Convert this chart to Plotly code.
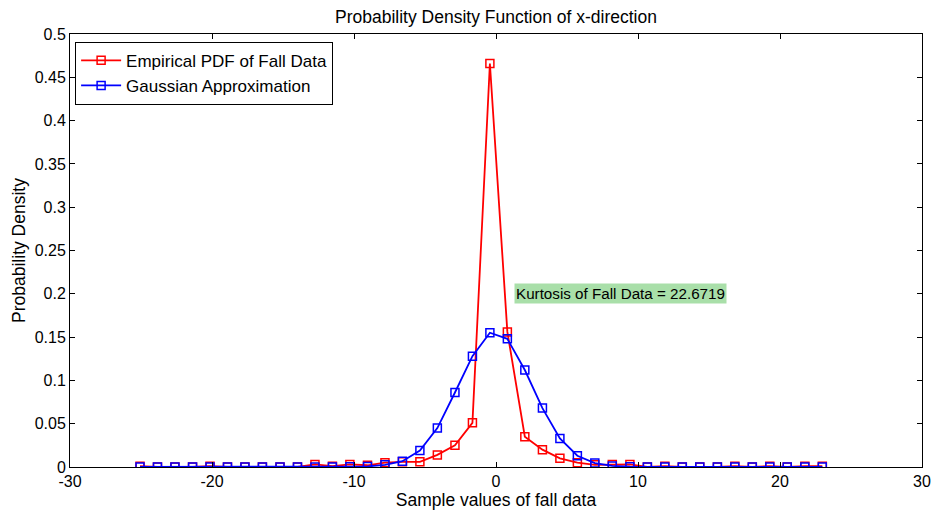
import plotly.graph_objects as go

# Bin centres (sample values)
x_vals = [-25.07, -23.84, -22.61, -21.37, -20.14, -18.91, -17.68, -16.45, -15.21, -13.98,
          -12.75, -11.52, -10.29, -9.05, -7.82, -6.59, -5.36, -4.13, -2.89, -1.66,
          -0.43, 0.80, 2.03, 3.27, 4.50, 5.73, 6.96, 8.19, 9.43, 10.66,
          11.89, 13.12, 14.35, 15.59, 16.82, 18.05, 19.28, 20.51, 21.75, 22.98]

# Empirical PDF of fall data
empirical_pdf = [0.001, 0.0, 0.0, 0.0, 0.001, 0.0, 0.0, 0.0, 0.0, 0.0,
                 0.003, 0.001, 0.003, 0.002, 0.005, 0.006, 0.006, 0.014, 0.025, 0.051,
                 0.466, 0.156, 0.035, 0.020, 0.010, 0.005, 0.0025, 0.003, 0.003, 0.0,
                 0.001, 0.0, 0.0, 0.0, 0.001, 0.0, 0.001, 0.0, 0.001, 0.001]

# Gaussian approximation
gaussian_pdf = [0.0, 0.0, 0.0, 0.0, 0.0, 0.0, 0.0, 0.0, 0.0, 0.0,
                0.0, 0.0001, 0.0002, 0.0007, 0.0025, 0.0067, 0.019, 0.045, 0.086, 0.128,
                0.155, 0.148, 0.112, 0.068, 0.033, 0.013, 0.0045, 0.0012, 0.0003, 0.0,
                0.0, 0.0, 0.0, 0.0, 0.0, 0.0, 0.0, 0.0, 0.0, 0.0]

x_ticks = [-30, -20, -10, 0, 10, 20, 30]
y_ticks = [0, 0.05, 0.1, 0.15, 0.2, 0.25, 0.3, 0.35, 0.4, 0.45, 0.5]
y_tick_labels = ["0", "0.05", "0.1", "0.15", "0.2", "0.25", "0.3", "0.35", "0.4", "0.45", "0.5"]

FONT = "Liberation Sans, Arial, sans-serif"

fig = go.Figure()
fig.add_trace(go.Scatter(
    x=x_vals, y=empirical_pdf, mode="lines+markers", name="Empirical PDF of Fall Data",
    line=dict(color="#ff0000", width=1.8),
    marker=dict(symbol="square-open", size=8, color="#ff0000", line=dict(width=1.5)),
))
fig.add_trace(go.Scatter(
    x=x_vals, y=gaussian_pdf, mode="lines+markers", name="Gaussian Approximation",
    line=dict(color="#0000ff", width=1.8),
    marker=dict(symbol="square-open", size=8, color="#0000ff", line=dict(width=1.5)),
))

fig.add_annotation(
    x=1.27, y=0.2, xref="x", yref="y", xanchor="left", yanchor="middle",
    text="Kurtosis of Fall Data = 22.6719", showarrow=False,
    font=dict(family=FONT, size=15.2, color="black"),
    bgcolor="#a9dfa9", borderpad=1,
)

fig.update_layout(
    width=934, height=515,
    margin=dict(l=70, r=12, t=34, b=48, autoexpand=False),
    paper_bgcolor="white", plot_bgcolor="white",
    font=dict(family=FONT, size=16, color="black"),
    title=dict(text="Probability Density Function of x-direction", x=0.531, xanchor="center",
               y=0.967, yanchor="middle", font=dict(family=FONT, size=17.5)),
    showlegend=True,
    legend=dict(x=0.006, y=0.982, xanchor="left", yanchor="top",
                bgcolor="white", bordercolor="black", borderwidth=1,
                font=dict(family=FONT, size=17), tracegroupgap=0, itemwidth=40),
)
fig.update_xaxes(
    range=[-30, 30], tickvals=x_ticks, ticktext=[str(v) for v in x_ticks],
    showgrid=False, zeroline=False, showline=True, linecolor="black", linewidth=1,
    mirror="ticks", ticks="inside", ticklen=5, tickcolor="black",
    tickfont=dict(family=FONT, size=16),
    title=dict(text="Sample values of fall data", font=dict(family=FONT, size=17.5), standoff=2),
)
fig.update_yaxes(
    range=[0, 0.5], tickvals=y_ticks, ticktext=y_tick_labels,
    showgrid=False, zeroline=False, showline=True, linecolor="black", linewidth=1,
    mirror="ticks", ticks="inside", ticklen=5, tickcolor="black",
    tickfont=dict(family=FONT, size=16),
    title=dict(text="Probability Density", font=dict(family=FONT, size=17.5), standoff=4),
)

fig.write_html("out.html")
